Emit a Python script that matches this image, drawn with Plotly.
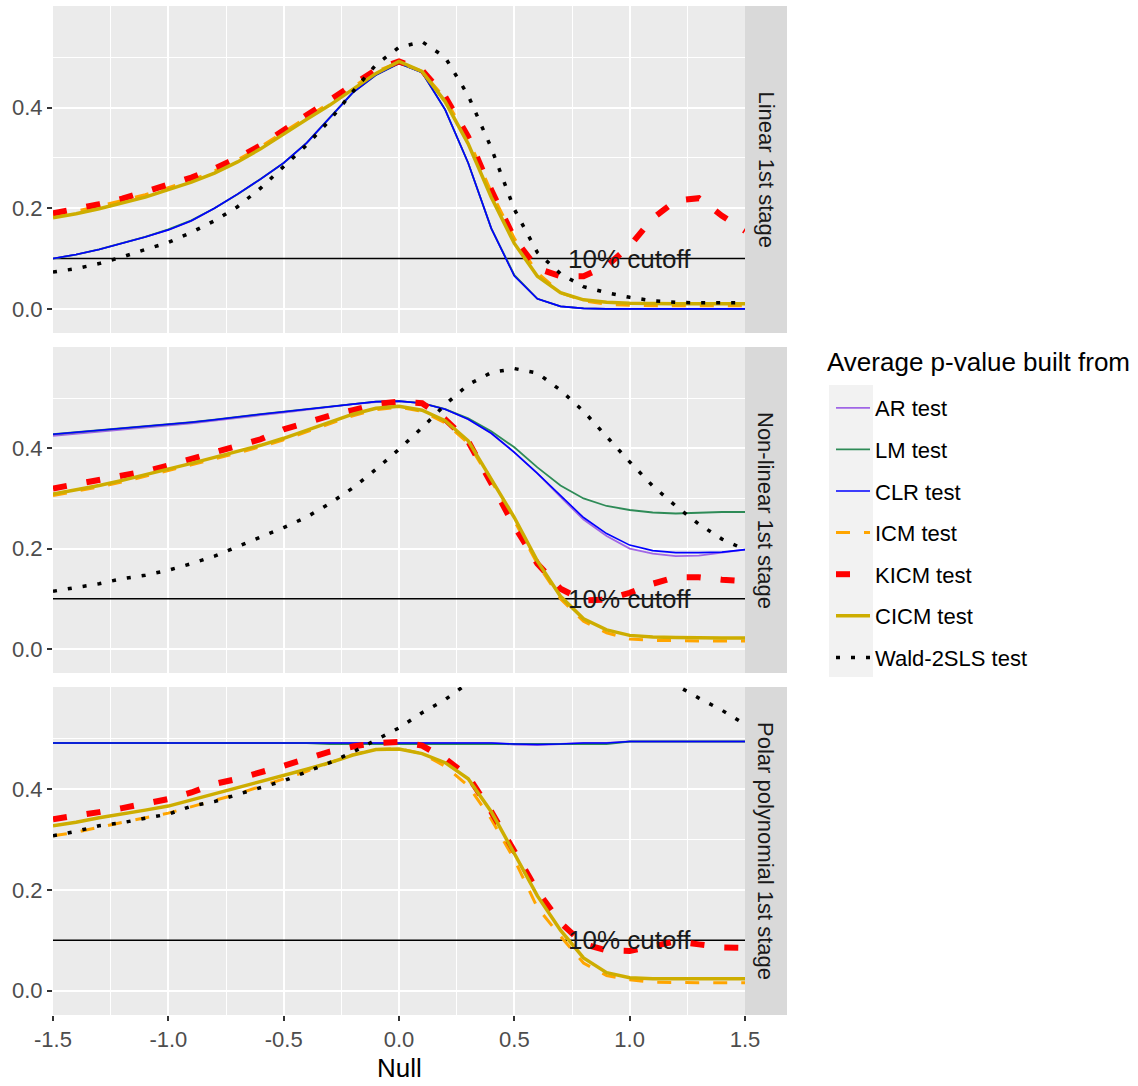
import plotly.graph_objects as go

# ---------------------------------------------------------------- data
NULL = [-1.5, -1.4, -1.3, -1.2, -1.1, -1.0, -0.9, -0.8, -0.7, -0.6, -0.5,
        -0.4, -0.3, -0.2, -0.1, 0.0, 0.1, 0.2, 0.3, 0.4, 0.5, 0.6, 0.7,
        0.8, 0.9, 1.0, 1.1, 1.2, 1.3, 1.4, 1.5]

CUTOFF = 0.1
CUTOFF_LABEL = "10% cutoff"
CUTOFF_LABEL_X = 1.0

FACETS = ["Linear 1st stage", "Non-linear 1st stage", "Polar polynomial 1st stage"]
TESTS = ["AR test", "LM test", "CLR test", "ICM test", "KICM test", "CICM test", "Wald-2SLS test"]
LEGEND_TITLE = "Average p-value built from"

# Linear first stage
LIN_AR = [0.100, 0.108, 0.118, 0.130, 0.143, 0.157, 0.175, 0.200, 0.228, 0.258, 0.290,
          0.330, 0.380, 0.430, 0.465, 0.488, 0.470, 0.396, 0.290, 0.160, 0.067, 0.020, 0.005,
          0.001, 0.000, 0.000, 0.000, 0.000, 0.000, 0.000, 0.000]
LIN_LM = [0.100, 0.108, 0.118, 0.130, 0.143, 0.158, 0.176, 0.200, 0.228, 0.258, 0.290,
          0.330, 0.380, 0.430, 0.465, 0.488, 0.470, 0.396, 0.290, 0.160, 0.067, 0.020, 0.005,
          0.001, 0.000, 0.000, 0.000, 0.000, 0.000, 0.000, 0.000]
LIN_CLR = [0.100, 0.108, 0.118, 0.130, 0.143, 0.157, 0.175, 0.200, 0.228, 0.258, 0.290,
           0.330, 0.380, 0.430, 0.465, 0.488, 0.470, 0.396, 0.290, 0.160, 0.065, 0.020, 0.005,
           0.001, 0.000, 0.000, 0.000, 0.000, 0.000, 0.000, 0.000]
LIN_ICM = [0.186, 0.194, 0.204, 0.215, 0.227, 0.241, 0.256, 0.274, 0.296, 0.322, 0.352,
           0.381, 0.409, 0.440, 0.472, 0.490, 0.472, 0.418, 0.338, 0.232, 0.140, 0.072, 0.032,
           0.016, 0.009, 0.007, 0.006, 0.006, 0.006, 0.006, 0.006]
LIN_KICM = [0.190, 0.198, 0.208, 0.219, 0.232, 0.246, 0.261, 0.279, 0.300, 0.325, 0.355,
            0.384, 0.413, 0.444, 0.475, 0.492, 0.474, 0.422, 0.342, 0.236, 0.140, 0.080, 0.065,
            0.065, 0.085, 0.125, 0.180, 0.215, 0.220, 0.185, 0.155]
LIN_CICM = [0.181, 0.189, 0.199, 0.210, 0.222, 0.237, 0.252, 0.270, 0.292, 0.318, 0.348,
            0.377, 0.405, 0.437, 0.468, 0.492, 0.472, 0.412, 0.328, 0.222, 0.130, 0.065, 0.032,
            0.018, 0.013, 0.011, 0.010, 0.010, 0.010, 0.010, 0.010]
LIN_WALD = [0.073, 0.080, 0.090, 0.103, 0.118, 0.132, 0.152, 0.175, 0.203, 0.240, 0.283,
            0.326, 0.375, 0.432, 0.485, 0.520, 0.531, 0.500, 0.424, 0.320, 0.198, 0.112, 0.070,
            0.044, 0.032, 0.023, 0.016, 0.013, 0.012, 0.012, 0.012]

# Non-linear first stage
NL_AR = [0.425, 0.429, 0.433, 0.437, 0.441, 0.445, 0.450, 0.455, 0.461, 0.466, 0.471,
         0.477, 0.483, 0.488, 0.492, 0.494, 0.490, 0.478, 0.458, 0.430, 0.392, 0.350, 0.303,
         0.258, 0.225, 0.200, 0.190, 0.185, 0.186, 0.192, 0.198]
NL_LM = [0.428, 0.432, 0.436, 0.439, 0.443, 0.447, 0.452, 0.457, 0.463, 0.468, 0.473,
         0.478, 0.484, 0.489, 0.493, 0.494, 0.490, 0.478, 0.460, 0.434, 0.402, 0.362, 0.326,
         0.300, 0.285, 0.277, 0.272, 0.270, 0.272, 0.273, 0.273]
NL_CLR = [0.428, 0.432, 0.436, 0.439, 0.443, 0.447, 0.452, 0.457, 0.463, 0.468, 0.473,
          0.478, 0.484, 0.489, 0.493, 0.494, 0.490, 0.478, 0.458, 0.430, 0.392, 0.350, 0.305,
          0.262, 0.230, 0.207, 0.196, 0.192, 0.192, 0.193, 0.198]
NL_ICM = [0.306, 0.314, 0.323, 0.333, 0.344, 0.355, 0.367, 0.379, 0.391, 0.403, 0.417,
          0.433, 0.449, 0.465, 0.477, 0.482, 0.474, 0.451, 0.410, 0.335, 0.256, 0.170, 0.100,
          0.055, 0.032, 0.020, 0.017, 0.016, 0.016, 0.016, 0.016]
NL_KICM = [0.320, 0.328, 0.336, 0.345, 0.354, 0.366, 0.379, 0.390, 0.406, 0.418, 0.438,
           0.452, 0.465, 0.476, 0.488, 0.493, 0.490, 0.458, 0.414, 0.330, 0.245, 0.170, 0.120,
           0.097, 0.098, 0.112, 0.130, 0.143, 0.143, 0.138, 0.135]
NL_CICM = [0.309, 0.317, 0.326, 0.336, 0.347, 0.358, 0.370, 0.382, 0.394, 0.406, 0.420,
           0.436, 0.452, 0.468, 0.480, 0.484, 0.476, 0.455, 0.415, 0.340, 0.262, 0.175, 0.105,
           0.060, 0.038, 0.027, 0.024, 0.023, 0.022, 0.022, 0.022]
NL_WALD = [0.115, 0.123, 0.130, 0.140, 0.147, 0.157, 0.170, 0.185, 0.204, 0.222, 0.242,
           0.263, 0.290, 0.321, 0.358, 0.398, 0.441, 0.487, 0.527, 0.551, 0.559, 0.550, 0.516,
           0.474, 0.423, 0.373, 0.325, 0.285, 0.249, 0.219, 0.198]

# Polar polynomial first stage
POL_AR = [0.491, 0.491, 0.491, 0.491, 0.491, 0.491, 0.491, 0.491, 0.491, 0.491, 0.491,
          0.491, 0.491, 0.491, 0.491, 0.491, 0.491, 0.491, 0.491, 0.491, 0.488, 0.487, 0.489,
          0.491, 0.491, 0.494, 0.494, 0.494, 0.494, 0.494, 0.494]
POL_LM = [0.491, 0.491, 0.491, 0.491, 0.491, 0.491, 0.491, 0.491, 0.491, 0.491, 0.491,
          0.491, 0.489, 0.489, 0.489, 0.489, 0.489, 0.489, 0.489, 0.489, 0.489, 0.489, 0.489,
          0.489, 0.489, 0.494, 0.494, 0.494, 0.494, 0.494, 0.494]
POL_CLR = [0.491, 0.491, 0.491, 0.491, 0.491, 0.491, 0.491, 0.491, 0.491, 0.491, 0.491,
           0.491, 0.491, 0.491, 0.491, 0.491, 0.491, 0.491, 0.491, 0.491, 0.489, 0.488, 0.489,
           0.491, 0.491, 0.494, 0.494, 0.494, 0.494, 0.494, 0.494]
POL_ICM = [0.307, 0.314, 0.324, 0.334, 0.343, 0.352, 0.365, 0.378, 0.390, 0.405, 0.420,
           0.435, 0.452, 0.468, 0.478, 0.480, 0.470, 0.445, 0.406, 0.340, 0.260, 0.165, 0.108,
           0.055, 0.030, 0.022, 0.017, 0.016, 0.016, 0.016, 0.016]
POL_KICM = [0.340, 0.346, 0.354, 0.362, 0.370, 0.380, 0.393, 0.410, 0.420, 0.432, 0.446,
            0.460, 0.474, 0.484, 0.491, 0.493, 0.486, 0.460, 0.425, 0.355, 0.275, 0.198, 0.135,
            0.093, 0.080, 0.079, 0.088, 0.098, 0.092, 0.086, 0.085]
POL_CICM = [0.327, 0.334, 0.343, 0.350, 0.358, 0.366, 0.378, 0.390, 0.402, 0.414, 0.426,
            0.439, 0.452, 0.467, 0.478, 0.479, 0.470, 0.452, 0.420, 0.355, 0.272, 0.188, 0.120,
            0.065, 0.036, 0.026, 0.024, 0.024, 0.024, 0.024, 0.024]
POL_WALD = [0.307, 0.316, 0.327, 0.333, 0.342, 0.350, 0.366, 0.375, 0.389, 0.403, 0.416,
            0.434, 0.452, 0.473, 0.497, 0.521, 0.551, 0.577, 0.610, 0.635, 0.655, 0.668, 0.672,
            0.668, 0.655, 0.638, 0.618, 0.606, 0.580, 0.556, 0.528]

PANEL_SERIES = [
    [LIN_AR, LIN_LM, LIN_CLR, LIN_ICM, LIN_KICM, LIN_CICM, LIN_WALD],
    [NL_AR, NL_LM, NL_CLR, NL_ICM, NL_KICM, NL_CICM, NL_WALD],
    [POL_AR, POL_LM, POL_CLR, POL_ICM, POL_KICM, POL_CICM, POL_WALD],
]

X_TICKS = [-1.5, -1.0, -0.5, 0.0, 0.5, 1.0, 1.5]
X_TICK_TEXT = ["-1.5", "-1.0", "-0.5", "0.0", "0.5", "1.0", "1.5"]
X_MINOR = [-1.25, -0.75, -0.25, 0.25, 0.75, 1.25]
Y_TICKS = [0.0, 0.2, 0.4]
Y_TICK_TEXT = ["0.0", "0.2", "0.4"]
Y_MINOR = [0.1, 0.3, 0.5]

# ---------------------------------------------------------------- styling
FONT = "Liberation Sans, Arial, sans-serif"
W, H = 1138, 1086

STYLES = {
    "AR test":        dict(color="#A066E6", width=1.8, dash="solid"),
    "LM test":        dict(color="#2E8B57", width=1.8, dash="solid"),
    "CLR test":       dict(color="#0000FF", width=1.6, dash="solid"),
    "ICM test":       dict(color="#FFA500", width=3.0, dash="14px,14px"),
    "KICM test":      dict(color="#FF0000", width=6.0, dash="14px,20px"),
    "CICM test":      dict(color="#CDAD00", width=3.5, dash="solid"),
    "Wald-2SLS test": dict(color="#000000", width=3.5, dash="4px,11px"),
}

# panel pixel extents (top, bottom) and horizontal extents
PANEL_PX = [(6, 333), (347, 673), (687, 1015)]
PANEL_LEFT, PANEL_RIGHT, STRIP_RIGHT = 53, 745, 787


def fx(p):
    return p / W


def fy(p):
    return 1 - p / H


fig = go.Figure()

for i, series in enumerate(PANEL_SERIES):
    n = "" if i == 0 else str(i + 1)
    xa, ya = "x" + n, "y" + n
    # 10% cutoff reference line
    fig.add_trace(go.Scatter(
        x=[NULL[0], NULL[-1]], y=[CUTOFF, CUTOFF], mode="lines",
        line=dict(color="#000000", width=1.5), xaxis=xa, yaxis=ya,
        showlegend=False, hoverinfo="skip"))
    for name, vals in zip(TESTS, series):
        st = STYLES[name]
        fig.add_trace(go.Scatter(
            x=NULL, y=vals, mode="lines", name=name,
            line=dict(color=st["color"], width=st["width"], dash=st["dash"]),
            xaxis=xa, yaxis=ya, legendgroup=name, showlegend=(i == 0)))

layout = dict(
    width=W, height=H,
    margin=dict(l=0, r=0, t=0, b=0, autoexpand=False),
    paper_bgcolor="#FFFFFF",
    plot_bgcolor="#EBEBEB",
    font=dict(family=FONT, size=22, color="#000000"),
    showlegend=True,
    legend=dict(
        x=fx(831), y=fy(387), xanchor="left", yanchor="top",
        bgcolor="rgba(0,0,0,0)", borderwidth=0,
        font=dict(family=FONT, size=22, color="#000000"),
        tracegroupgap=10, traceorder="grouped", itemwidth=34,
    ),
    shapes=[], annotations=[],
)

for i, (top, bot) in enumerate(PANEL_PX):
    n = "" if i == 0 else str(i + 1)
    last = i == len(PANEL_PX) - 1
    layout["xaxis" + n] = dict(
        domain=[fx(PANEL_LEFT), fx(PANEL_RIGHT)], anchor="y" + n,
        range=[-1.5, 1.5], tickvals=X_TICKS, ticktext=X_TICK_TEXT,
        showticklabels=last, ticks="outside" if last else "",
        ticklen=5, tickwidth=1.5, tickcolor="#333333",
        tickfont=dict(family=FONT, size=22, color="#4D4D4D"),
        showgrid=True, gridcolor="#FFFFFF", gridwidth=2,
        minor=dict(tickvals=X_MINOR, showgrid=True, gridcolor="#FFFFFF",
                   gridwidth=1, ticks=""),
        zeroline=False, showline=False, fixedrange=True, automargin=False,
        matches="x" if i else None,
    )
    layout["yaxis" + n] = dict(
        domain=[fy(bot), fy(top)], anchor="x" + n,
        range=[-0.048, 0.602], tickvals=Y_TICKS, ticktext=Y_TICK_TEXT,
        ticks="outside", ticklen=5, tickwidth=1.5, tickcolor="#333333",
        tickfont=dict(family=FONT, size=22, color="#4D4D4D"),
        showgrid=True, gridcolor="#FFFFFF", gridwidth=2,
        minor=dict(tickvals=Y_MINOR, showgrid=True, gridcolor="#FFFFFF",
                   gridwidth=1, ticks=""),
        zeroline=False, showline=False, fixedrange=True, automargin=False,
    )
    # facet strip on the right
    layout["shapes"].append(dict(
        type="rect", xref="paper", yref="paper",
        x0=fx(PANEL_RIGHT), x1=fx(STRIP_RIGHT), y0=fy(bot), y1=fy(top),
        fillcolor="#D9D9D9", line=dict(width=0), layer="below"))
    layout["annotations"].append(dict(
        text=FACETS[i], xref="paper", yref="paper",
        x=fx((PANEL_RIGHT + STRIP_RIGHT) / 2), y=fy((top + bot) / 2),
        xanchor="center", yanchor="middle", textangle=90, showarrow=False,
        font=dict(family=FONT, size=22, color="#1A1A1A")))
    # cutoff label
    layout["annotations"].append(dict(
        text=CUTOFF_LABEL, xref="x" + n, yref="y" + n,
        x=CUTOFF_LABEL_X, y=CUTOFF, xanchor="center", yanchor="middle",
        showarrow=False, font=dict(family=FONT, size=26, color="#1A1A1A")))

# x axis title
layout["annotations"].append(dict(
    text="Null", xref="paper", yref="paper",
    x=fx((PANEL_LEFT + PANEL_RIGHT) / 2), y=fy(1068),
    xanchor="center", yanchor="middle", showarrow=False,
    font=dict(family=FONT, size=26, color="#000000")))

# legend title
layout["annotations"].append(dict(
    text=LEGEND_TITLE, xref="paper", yref="paper",
    x=fx(825), y=fy(362), xanchor="left", yanchor="middle", showarrow=False,
    font=dict(family=FONT, size=26, color="#000000")))

# grey background behind the legend keys
layout["shapes"].append(dict(
    type="rect", xref="paper", yref="paper",
    x0=fx(829), x1=fx(873), y0=fy(677), y1=fy(385),
    fillcolor="#F2F2F2", line=dict(width=0), layer="below"))

fig.update_layout(**layout)
fig.write_html("out.html")
